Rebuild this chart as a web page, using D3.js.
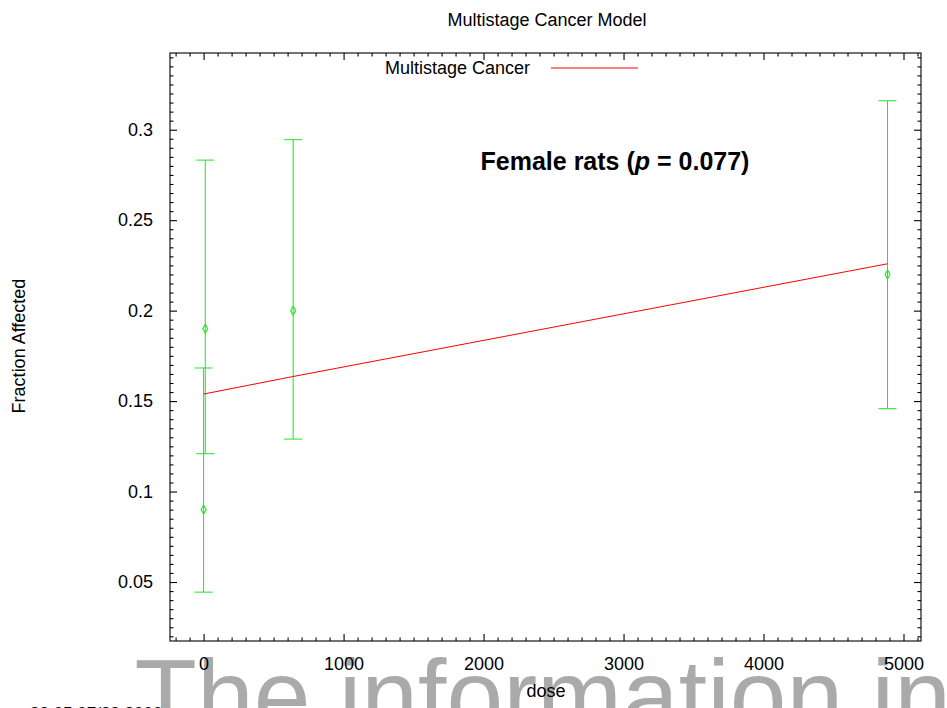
<!DOCTYPE html>
<html>
<head>
<meta charset="utf-8">
<script src="https://cdn.jsdelivr.net/npm/d3@7"></script>
<style>
  html, body { margin: 0; padding: 0; background: #fff; }
  svg { display: block; font-family: "Liberation Sans", Arial, sans-serif; }
</style>
</head>
<body>
<svg id="chart" width="947" height="708"></svg>
<script>
// Multistage cancer model fit with observed fractions and error bars.

const doses = [0, 12, 640, 4886];
const observed = [0.09, 0.19, 0.2, 0.22];
const errLow = [0.0444, 0.1209, 0.129, 0.1458];
const errHigh = [0.1683, 0.2832, 0.2945, 0.316];

const fitDose = [0, 640, 4886];
const fitValue = [0.1539, 0.1636, 0.2259];

const xTicks = [0, 1000, 2000, 3000, 4000, 5000];
const yTicks = [0.05, 0.1, 0.15, 0.2, 0.25, 0.3];
const yTickLabels = ['0.05', '0.1', '0.15', '0.2', '0.25', '0.3'];

const xDomain = [-240, 5125];
const yDomain = [0.0174, 0.3424];

const margin = { left: 170, right: 26, top: 53, bottom: 67 };
const W = 947;
const H = 708;
const width = W - margin.left - margin.right;
const height = H - margin.top - margin.bottom;
const fontSize = '18px';

const svg = d3.select('#chart');

// watermark sits behind everything
svg.append('text')
  .attr('x', 134.6)
  .attr('y', 731)
  .attr('fill', '#aaaaaa')
  .style('font-size', '102px')
  .text('The information in');

svg.append('text')
  .attr('x', 30)
  .attr('y', 719)
  .style('font-size', '17px')
  .text('22:05 07/28 2000');

const g = svg.append('g')
  .attr('transform', `translate(${margin.left},${margin.top})`);

const x = d3.scaleLinear().domain(xDomain).range([0, width]);
const y = d3.scaleLinear().domain(yDomain).range([height, 0]);

const xMinor = d3.range(-200, 5101, 100).filter((v) => v % 1000 !== 0);
const yMinor = d3.range(20, 343, 5).map((v) => v / 1000).filter((v) => Math.round(v * 1000) % 50 !== 0);

function styleAxis(sel) {
  sel.select('.domain').remove();
  sel.selectAll('line').attr('stroke', '#000').attr('stroke-width', 1.1);
  sel.selectAll('text')
    .attr('fill', '#000')
    .style('font-size', fontSize)
    .style('font-family', '"Liberation Sans", Arial, sans-serif');
}

// major and minor ticks, all pointing inward, mirrored on top/right
g.append('g')
  .attr('transform', `translate(0,${height})`)
  .call(d3.axisBottom(x).tickValues(xTicks).tickSizeInner(-7).tickSizeOuter(0).tickPadding(16).tickFormat(d3.format('d')))
  .call(styleAxis);
g.append('g')
  .attr('transform', `translate(0,${height})`)
  .call(d3.axisBottom(x).tickValues(xMinor).tickSizeInner(-3.5).tickSizeOuter(0).tickFormat(''))
  .call(styleAxis);
g.append('g')
  .call(d3.axisTop(x).tickValues(xTicks).tickSizeInner(-7).tickSizeOuter(0).tickFormat(''))
  .call(styleAxis);
g.append('g')
  .call(d3.axisTop(x).tickValues(xMinor).tickSizeInner(-3.5).tickSizeOuter(0).tickFormat(''))
  .call(styleAxis);

g.append('g')
  .call(d3.axisLeft(y).tickValues(yTicks).tickSizeInner(-7).tickSizeOuter(0).tickPadding(17)
    .tickFormat((d, i) => yTickLabels[i]))
  .call(styleAxis);
g.append('g')
  .call(d3.axisLeft(y).tickValues(yMinor).tickSizeInner(-3.5).tickSizeOuter(0).tickFormat(''))
  .call(styleAxis);
g.append('g')
  .attr('transform', `translate(${width},0)`)
  .call(d3.axisRight(y).tickValues(yTicks).tickSizeInner(-7).tickSizeOuter(0).tickFormat(''))
  .call(styleAxis);
g.append('g')
  .attr('transform', `translate(${width},0)`)
  .call(d3.axisRight(y).tickValues(yMinor).tickSizeInner(-3.5).tickSizeOuter(0).tickFormat(''))
  .call(styleAxis);

// frame
g.append('rect')
  .attr('width', width)
  .attr('height', height)
  .attr('fill', 'none')
  .attr('stroke', '#000')
  .attr('stroke-width', 1.1);

// error bars
const green = '#1ee61e';
const capHalf = 9;
const bars = g.append('g').attr('class', 'errorbars');
doses.forEach((d, i) => {
  const cx = x(d);
  bars.append('line')
    .attr('x1', cx).attr('x2', cx)
    .attr('y1', y(errLow[i])).attr('y2', y(errHigh[i]))
    .attr('stroke', green).attr('stroke-width', 1);
  [errLow[i], errHigh[i]].forEach((v) => {
    bars.append('line')
      .attr('x1', cx - capHalf).attr('x2', cx + capHalf)
      .attr('y1', y(v)).attr('y2', y(v))
      .attr('stroke', green).attr('stroke-width', 1);
  });
  bars.append('path')
    .attr('d', d3.symbol().type(d3.symbolDiamond).size(22)())
    .attr('transform', `translate(${cx},${y(observed[i])})`)
    .attr('fill', 'none')
    .attr('stroke', green)
    .attr('stroke-width', 1.1);
});

// fitted model
g.append('path')
  .datum(fitDose.map((d, i) => [d, fitValue[i]]))
  .attr('d', d3.line().x((d) => x(d[0])).y((d) => y(d[1])))
  .attr('fill', 'none')
  .attr('stroke', '#ff0000')
  .attr('stroke-width', 1);

// legend
svg.append('text')
  .attr('x', 530)
  .attr('y', 74)
  .attr('text-anchor', 'end')
  .style('font-size', fontSize)
  .text('Multistage Cancer');
svg.append('line')
  .attr('x1', 551).attr('x2', 638)
  .attr('y1', 68).attr('y2', 68)
  .attr('stroke', '#ff0000').attr('stroke-width', 1);

// annotation
const note = svg.append('text')
  .attr('x', 615)
  .attr('y', 170)
  .attr('text-anchor', 'middle')
  .style('font-size', '25px')
  .style('font-weight', 'bold');
note.append('tspan').text('Female rats (');
note.append('tspan').style('font-style', 'italic').text('p');
note.append('tspan').text(' = 0.077)');

// titles
svg.append('text')
  .attr('x', 547)
  .attr('y', 26)
  .attr('text-anchor', 'middle')
  .style('font-size', fontSize)
  .text('Multistage Cancer Model');

svg.append('text')
  .attr('x', 546)
  .attr('y', 697)
  .attr('text-anchor', 'middle')
  .style('font-size', fontSize)
  .text('dose');

svg.append('text')
  .attr('transform', 'translate(25,346) rotate(-90)')
  .attr('text-anchor', 'middle')
  .style('font-size', fontSize)
  .text('Fraction Affected');
</script>
</body>
</html>
